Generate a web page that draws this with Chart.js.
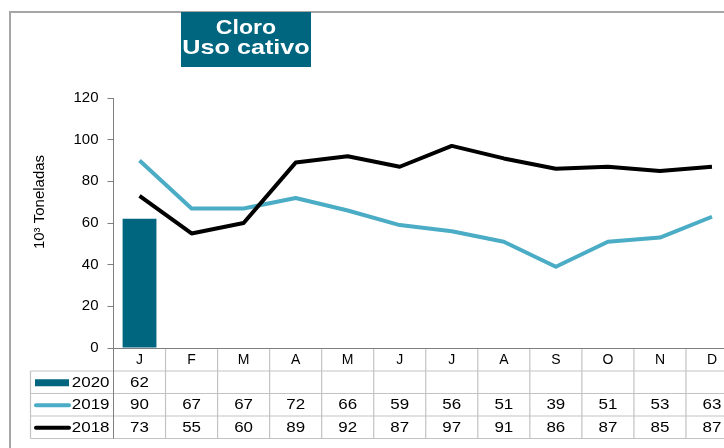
<!DOCTYPE html>
<html>
<head>
<meta charset="utf-8">
<script src="https://cdn.jsdelivr.net/npm/chart.js@4"></script>
<style>
  html, body { margin: 0; padding: 0; overflow: hidden; background: #fff; }
  canvas { display: block; }
</style>
</head>
<body>
<canvas id="chart" width="760" height="448"></canvas>
<script>
const months = ['J', 'F', 'M', 'A', 'M', 'J', 'J', 'A', 'S', 'O', 'N', 'D'];
const v2020 = [62, null, null, null, null, null, null, null, null, null, null, null];
const v2019 = [90, 67, 67, 72, 66, 59, 56, 51, 39, 51, 53, 63];
const v2018 = [73, 55, 60, 89, 92, 87, 97, 91, 86, 87, 85, 87];
const yTicks = [0, 20, 40, 60, 80, 100, 120];
const titleLines = ['Cloro', 'Uso cativo'];
const yTitle = '10³ Toneladas';

const TEAL = '#00667f';
const LIGHT = '#4bacc6';
const GRID = '#c3c3c3';
const AXIS = '#7f7f7f';
const FONT = '"Liberation Sans", Arial, sans-serif';

// draw text squeezed/stretched horizontally like the original export
function wideText(ctx, text, x, y, sx, align) {
    ctx.save();
    ctx.translate(x, y);
    ctx.scale(sx, 1);
    ctx.textAlign = align;
    ctx.fillText(text, 0, 0);
    ctx.restore();
}

const decorPlugin = {
    id: 'decor',
    afterDraw(chart) {
        const ctx = chart.ctx;
        const x = chart.scales.x;
        const area = chart.chartArea;
        const colW = (area.right - area.left) / months.length;
        const rows = [area.bottom, 371, 393.5, 416, 438.5];
        const legendLeft = 30.5;

        ctx.save();

        // outer frame
        ctx.strokeStyle = '#a6a6a6';
        ctx.lineWidth = 2;
        ctx.strokeRect(10, 12, 800, 500);

        // table grid
        ctx.strokeStyle = GRID;
        ctx.lineWidth = 1.2;
        ctx.beginPath();
        for (let i = 1; i < rows.length; i++) {
            ctx.moveTo(legendLeft, rows[i]);
            ctx.lineTo(area.right, rows[i]);
        }
        for (let i = 1; i <= months.length; i++) {
            const cx = area.left + i * colW;
            ctx.moveTo(cx, rows[0]);
            ctx.lineTo(cx, rows[4]);
        }
        ctx.moveTo(legendLeft, rows[1]);
        ctx.lineTo(legendLeft, rows[4]);
        ctx.stroke();

        ctx.strokeStyle = AXIS;
        ctx.lineWidth = 1;
        ctx.beginPath();
        ctx.moveTo(area.left, rows[0]);
        ctx.lineTo(area.left, rows[4]);
        ctx.moveTo(area.left, rows[0] + 0.5);
        ctx.lineTo(area.right, rows[0] + 0.5);
        ctx.stroke();

        // month header
        ctx.fillStyle = '#000';
        ctx.textBaseline = 'middle';
        ctx.font = '14px ' + FONT;
        months.forEach((m, i) => {
            wideText(ctx, m, x.getPixelForValue(i), (rows[0] + rows[1]) / 2 + 1, 1, 'center');
        });

        // data rows
        const series = [
            { label: '2020', data: v2020, color: TEAL, kind: 'bar' },
            { label: '2019', data: v2019, color: LIGHT, kind: 'line' },
            { label: '2018', data: v2018, color: '#000', kind: 'line' }
        ];
        ctx.font = '15px ' + FONT;
        series.forEach((s, r) => {
            const cy = (rows[r + 1] + rows[r + 2]) / 2 + 0.5;
            if (s.kind === 'bar') {
                ctx.fillStyle = s.color;
                ctx.fillRect(35, cy - 3.5, 34, 7);
            } else {
                ctx.strokeStyle = s.color;
                ctx.lineWidth = 4;
                ctx.lineCap = 'round';
                ctx.beginPath();
                ctx.moveTo(36, cy);
                ctx.lineTo(69, cy);
                ctx.stroke();
            }
            ctx.fillStyle = '#000';
            wideText(ctx, s.label, 109.5, cy, 1.13, 'right');
            s.data.forEach((v, i) => {
                if (v === null) return;
                wideText(ctx, String(v), x.getPixelForValue(i), cy, 1.13, 'center');
            });
        });

        // y axis title
        ctx.save();
        ctx.translate(40, 202);
        ctx.rotate(-Math.PI / 2);
        ctx.font = '15px ' + FONT;
        ctx.textAlign = 'center';
        ctx.textBaseline = 'middle';
        ctx.fillText(yTitle, 0, 0);
        ctx.restore();

        // title box
        ctx.fillStyle = TEAL;
        ctx.fillRect(181, 12, 130, 55);
        ctx.fillStyle = '#fff';
        ctx.font = 'bold 21px ' + FONT;
        ctx.textBaseline = 'alphabetic';
        wideText(ctx, titleLines[0], 246, 33.5, 1.1, 'center');
        wideText(ctx, titleLines[1], 246, 53.5, 1.2, 'center');

        ctx.restore();
    }
};

new Chart(document.getElementById('chart'), {
    data: {
        labels: months,
        datasets: [
            {
                type: 'line',
                label: '2018',
                data: v2018,
                borderColor: '#000',
                borderWidth: 4,
                pointRadius: 0,
                tension: 0,
                borderJoinStyle: 'round',
                order: 0
            },
            {
                type: 'line',
                label: '2019',
                data: v2019,
                borderColor: LIGHT,
                borderWidth: 4,
                pointRadius: 0,
                tension: 0,
                borderJoinStyle: 'round',
                order: 1
            },
            {
                type: 'bar',
                label: '2020',
                data: v2020,
                backgroundColor: TEAL,
                barPercentage: 0.65,
                categoryPercentage: 1,
                order: 2
            }
        ]
    },
    options: {
        responsive: false,
        animation: false,
        layout: { padding: { left: 0, top: 98, right: 22, bottom: 100 } },
        plugins: {
            legend: { display: false },
            tooltip: { enabled: false }
        },
        scales: {
            x: {
                type: 'category',
                display: false,
                offset: true
            },
            y: {
                min: 0,
                max: 120,
                afterFit: (scale) => { scale.width = 113.5; },
                afterBuildTicks: (scale) => { scale.ticks = yTicks.map(v => ({ value: v })); },
                ticks: {
                    color: '#000',
                    padding: 9,
                    font: { family: FONT, size: 15 }
                },
                grid: {
                    drawOnChartArea: false,
                    drawTicks: true,
                    tickLength: 6,
                    color: AXIS
                },
                border: { display: true, color: AXIS, width: 1 }
            }
        }
    },
    plugins: [decorPlugin]
});
</script>
</body>
</html>
